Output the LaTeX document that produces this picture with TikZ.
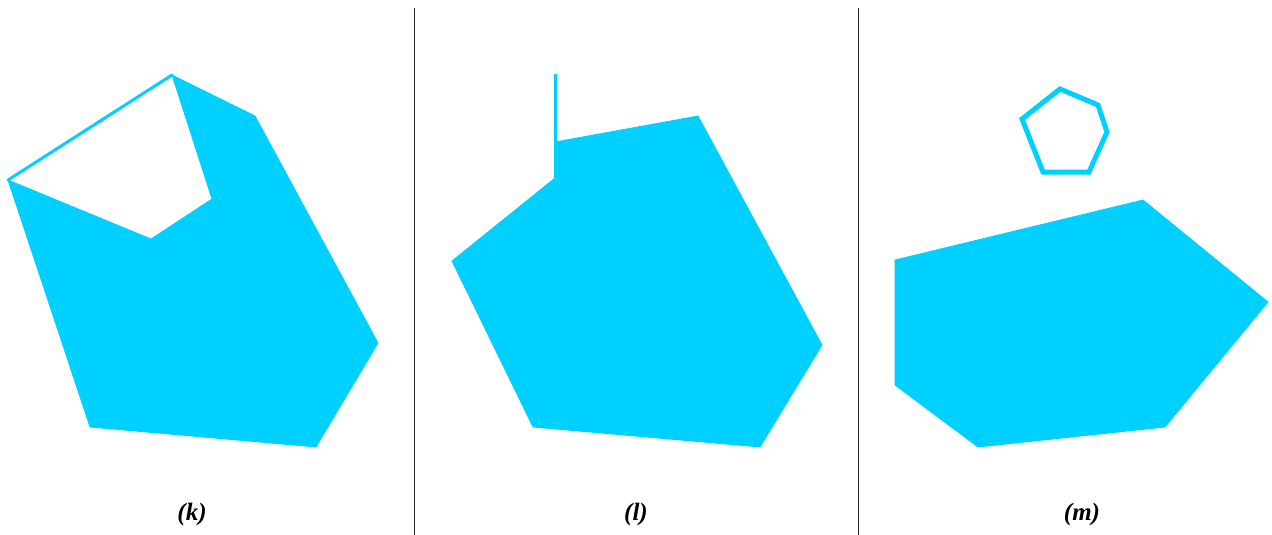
\documentclass[tikz,border=0pt]{standalone}
\usepackage{fontspec}
\setmainfont{Liberation Serif}
\definecolor{cy}{RGB}{0,208,255}
\definecolor{divider}{RGB}{40,40,40}
\begin{document}
\begin{tikzpicture}[x=1pt,y=-1pt,
  polyfill/.style={fill=cy,draw=cy,line width=0.8pt,line join=miter},
  polyedge/.style={draw=cy,line width=3pt},
  lab/.style={font=\bfseries\itshape\fontsize{25}{30}\selectfont,anchor=center},
  sep/.style={draw=divider,line width=0.9pt}]
\useasboundingbox (0,0) rectangle (1272,535);
% dividers
\draw[sep] (414,8) -- (414,535);
\draw[sep] (858,8) -- (858,535);
% panel k
\filldraw[polyfill] (8,180) -- (151,239) -- (212,199) -- (172,75) -- (255,116) -- (378,343) -- (316,447) -- (90,427) -- cycle;
\draw[polyedge,line cap=round] (8,180) -- (172,75);
% panel l
\filldraw[polyfill] (555,142) -- (698,116) -- (822,345) -- (760,447) -- (533,427) -- (452,261) -- (555,178) -- cycle;
\draw[polyedge] (555.5,74) -- (555.5,180);
% panel m
\draw[draw=cy,line width=5pt,line join=miter] (1060,89) -- (1098,105) -- (1107,132) -- (1089,172) -- (1043,172) -- (1022,119) -- cycle;
\filldraw[polyfill] (895,260) -- (1143,200) -- (1268,302) -- (1165,427) -- (978,447) -- (895,385) -- cycle;
% labels
\node[lab] (lk) at (192,514) {(k)};
\node[lab] (ll) at (636,514) {(l)};
\node[lab] (lm) at (1082,514) {(m)};
\end{tikzpicture}
\end{document}
